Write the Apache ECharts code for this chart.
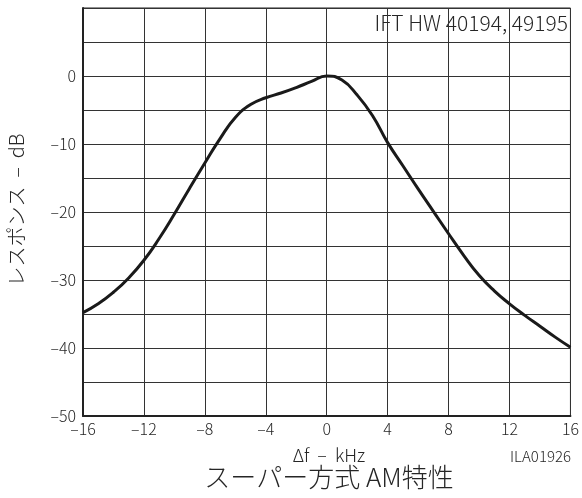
<!DOCTYPE html>
<html><head><meta charset="utf-8">
<script src="https://cdn.jsdelivr.net/npm/echarts@6/dist/echarts.min.js"></script>
<style>html,body{margin:0;padding:0;background:#fff}#c{width:582px;height:498px}</style>
</head><body><div id="c"></div>
<script>
const freqKHz = [-16,-15,-14,-13,-12,-11,-10,-9,-8,-7,-6,-5,-4,-3,-2,-1,0,1,2,3,4,5,6,7,8,9,10,11,12,13,14,15,16];
const responseDb = [-34.8,-33.5,-31.8,-29.7,-27.1,-23.9,-20.3,-16.5,-12.8,-9.2,-6.1,-4.2,-3.2,-2.5,-1.7,-0.8,0,-0.6,-2.8,-5.8,-9.8,-13.2,-16.6,-19.9,-23.2,-26.4,-29.3,-31.6,-33.5,-35.2,-36.8,-38.4,-39.9];
const xTicks = [-16,-12,-8,-4,0,4,8,12,16];
const yTicks = [-50,-40,-30,-20,-10,0];
const titleText = 'スーパー方式 AM特性';
const xName = 'Δf  –  kHz';
const yName = 'レスポンス  –  dB';
const noteText = 'IFT HW 40194, 49195';
const codeText = 'ILA01926';

const font = '"Noto Sans CJK JP", "Noto Sans", sans-serif';
const txt = '#262626';
const fmt = v => (v < 0 ? '–' + Math.abs(v) : String(v));
const chart = echarts.init(document.getElementById('c'), null, {renderer: 'canvas'});
chart.setOption({
  animation: false,
  grid: {left: 83, right: 9, top: 8, bottom: 82, show: true, borderColor: '#222', borderWidth: 1},
  xAxis: {
    type: 'value', min: -16, max: 16, interval: 4,
    axisLine: {show: true, onZero: false, lineStyle: {color: '#222', width: 2}},
    axisTick: {show: false},
    splitLine: {show: true, lineStyle: {color: '#333', width: 1}},
    axisLabel: {color: txt, fontFamily: font, fontWeight: 300, fontSize: 16, margin: 5,
      formatter: v => xTicks.includes(v) ? fmt(v) : ''}
  },
  yAxis: {
    type: 'value', min: -50, max: 10, interval: 5,
    axisLine: {show: true, onZero: false, lineStyle: {color: '#222', width: 2}},
    axisTick: {show: false},
    splitLine: {show: true, lineStyle: {color: '#333', width: 1}},
    axisLabel: {color: txt, fontFamily: font, fontWeight: 300, fontSize: 16, margin: 7,
      formatter: v => yTicks.includes(v) ? fmt(v) : ''}
  },
  series: [{
    type: 'line', data: freqKHz.map((f, i) => [f, responseDb[i]]),
    smooth: 0.5, showSymbol: false,
    lineStyle: {color: '#1a1a1a', width: 3}
  }],
  graphic: [
    {type: 'text', right: 14, top: 13, style: {text: noteText, fill: txt, font: '300 21px ' + font, textAlign: 'right'}},
    {type: 'text', x: 329, y: 455, style: {text: xName, fill: txt, font: '300 18px ' + font, textAlign: 'center', textVerticalAlign: 'middle'}},
    {type: 'text', x: 571, y: 456, style: {text: codeText, fill: txt, font: '300 15px ' + font, textAlign: 'right', textVerticalAlign: 'middle'}},
    {type: 'text', x: 329, y: 477, style: {text: titleText, fill: txt, font: '300 26px ' + font, textAlign: 'center', textVerticalAlign: 'middle'}},
    {type: 'text', x: 16, y: 210, rotation: Math.PI / 2, style: {text: yName, fill: txt, font: '300 20px ' + font, textAlign: 'center', textVerticalAlign: 'middle'}}
  ]
});
</script></body></html>
